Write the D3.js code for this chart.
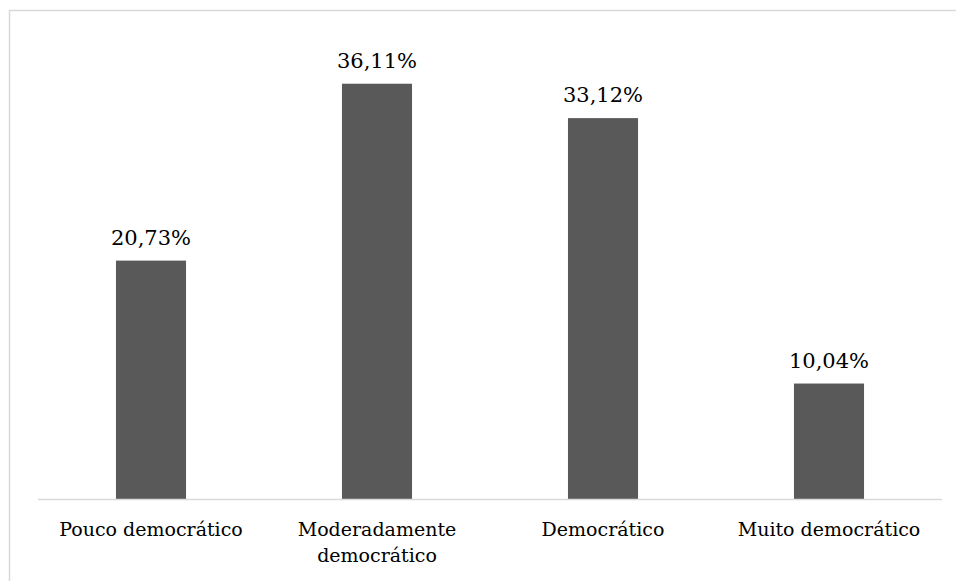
<!DOCTYPE html>
<html>
<head>
<meta charset="utf-8">
<script src="https://cdn.jsdelivr.net/npm/d3@7"></script>
<style>
  body { margin: 0; background: #fff; }
  .cat { font-family: "DejaVu Serif", serif; }
  .val { font-family: "DejaVu Serif", serif; }
</style>
</head>
<body>
<div id="chart"></div>
<script>
	/*Data*/
	var categories = ["Pouco democrático", "Moderadamente democrático", "Democrático", "Muito democrático"];
	var values = [20.73, 36.11, 33.12, 10.04];
	var valueLabels = ["20,73%", "36,11%", "33,12%", "10,04%"];

	/*SVG Size*/
	var width = 956;
	var height = 581;

	var margin = {left: 38, right: 14, top: 39, bottom: 82};

	var svg = d3.select("#chart").append("svg")
				.attr("width", width)
				.attr("height", height);

	/*Chart border (runs off right/bottom edge)*/
	svg.append("rect")
		.attr("x", 9.5)
		.attr("y", 10.5)
		.attr("width", 970)
		.attr("height", 600)
		.attr("fill", "none")
		.attr("stroke", "#d9d9d9")
		.attr("stroke-width", 1.5);

	/*Scales*/
	var x = d3.scaleBand()
			  .domain(categories)
			  .range([margin.left, width - margin.right])
			  .paddingInner(0.69)
			  .paddingOuter(0.345);

	var y = d3.scaleLinear()
			  .domain([0, 40])
			  .range([height - margin.bottom, margin.top]);

	/*Bars*/
	svg.selectAll(".bar")
		.data(values)
		.enter().append("rect")
		.attr("class", "bar")
		.attr("x", function(d, i){ return x(categories[i]); })
		.attr("y", function(d){ return y(d); })
		.attr("width", x.bandwidth())
		.attr("height", function(d){ return y(0) - y(d); })
		.attr("fill", "#595959");

	/*Baseline*/
	svg.append("line")
		.attr("x1", margin.left)
		.attr("x2", width - margin.right)
		.attr("y1", y(0) + 0.5)
		.attr("y2", y(0) + 0.5)
		.attr("stroke", "#d9d9d9")
		.attr("stroke-width", 1.5);

	/*Value labels*/
	svg.selectAll(".val")
		.data(values)
		.enter().append("text")
		.attr("class", "val")
		.attr("x", function(d, i){ return x(categories[i]) + x.bandwidth()/2; })
		.attr("y", function(d){ return y(d) - 16; })
		.attr("text-anchor", "middle")
		.attr("font-size", 21)
		.attr("fill", "#000")
		.text(function(d, i){ return valueLabels[i]; });

	/*Category labels (wrapped like Excel)*/
	var wrap = {"Moderadamente democrático": ["Moderadamente", "democrático"]};
	svg.selectAll(".cat")
		.data(categories)
		.enter().append("text")
		.attr("class", "cat")
		.attr("x", function(d){ return x(d) + x.bandwidth()/2; })
		.attr("y", y(0) + 37)
		.attr("text-anchor", "middle")
		.attr("font-size", 19)
		.attr("fill", "#000")
		.each(function(d){
			var lines = wrap[d] || [d];
			var t = d3.select(this);
			lines.forEach(function(l, k){
				t.append("tspan")
				 .attr("x", x(d) + x.bandwidth()/2)
				 .attr("dy", k === 0 ? 0 : 26)
				 .text(l);
			});
		});
</script>
</body>
</html>
